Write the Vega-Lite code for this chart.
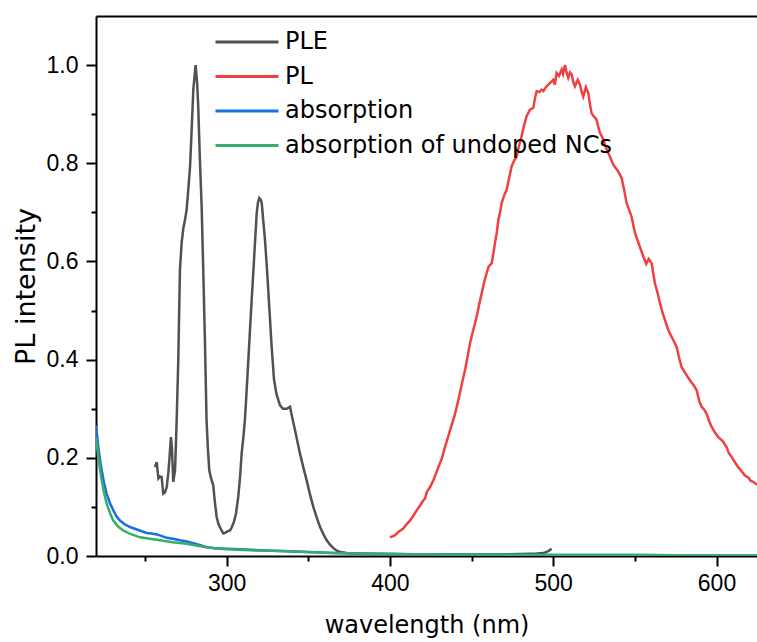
{
 "$schema": "https://vega.github.io/schema/vega-lite/v6.json",
 "width": 661,
 "height": 540,
 "autosize": {"type": "none"},
 "padding": {"left": 96, "top": 16, "right": 0, "bottom": 86},
 "config": {
  "view": {"stroke": null},
  "axis": {"domainColor": "black", "domainWidth": 2, "tickColor": "black", "tickWidth": 2, "labelColor": "black", "titleColor": "black", "grid": false, "labelFont": "Liberation Sans", "labelFontSize": 23, "titleFont": "DejaVu Sans", "titleFontWeight": "normal"}
 },
 "data": {"values": [
  {"s":"PLE","x":256.1,"y":0.181},{"s":"PLE","x":257.2,"y":0.191},{"s":"PLE","x":258.2,"y":0.158},{"s":"PLE","x":259.2,"y":0.162},{"s":"PLE","x":260.2,"y":0.161},{"s":"PLE","x":261.2,"y":0.127},{"s":"PLE","x":262.3,"y":0.13},{"s":"PLE","x":263.3,"y":0.14},{"s":"PLE","x":264.3,"y":0.17},{"s":"PLE","x":264.9,"y":0.195},{"s":"PLE","x":265.9,"y":0.242},{"s":"PLE","x":266.5,"y":0.22},{"s":"PLE","x":267.3,"y":0.151},{"s":"PLE","x":268.4,"y":0.174},{"s":"PLE","x":269.4,"y":0.276},{"s":"PLE","x":270.4,"y":0.40},{"s":"PLE","x":271.4,"y":0.583},{"s":"PLE","x":272.5,"y":0.64},{"s":"PLE","x":273.5,"y":0.668},{"s":"PLE","x":274.5,"y":0.685},{"s":"PLE","x":275.5,"y":0.705},{"s":"PLE","x":276.6,"y":0.75},{"s":"PLE","x":277.6,"y":0.793},{"s":"PLE","x":278.6,"y":0.87},{"s":"PLE","x":279.6,"y":0.95},{"s":"PLE","x":281.0,"y":1.0},{"s":"PLE","x":282.0,"y":0.96},{"s":"PLE","x":282.6,"y":0.916},{"s":"PLE","x":283.6,"y":0.81},{"s":"PLE","x":284.7,"y":0.712},{"s":"PLE","x":285.7,"y":0.58},{"s":"PLE","x":286.7,"y":0.44},{"s":"PLE","x":287.7,"y":0.277},{"s":"PLE","x":288.5,"y":0.22},{"s":"PLE","x":289.4,"y":0.174},{"s":"PLE","x":290.5,"y":0.158},{"s":"PLE","x":291.8,"y":0.144},{"s":"PLE","x":292.8,"y":0.11},{"s":"PLE","x":293.9,"y":0.079},{"s":"PLE","x":295.0,"y":0.065},{"s":"PLE","x":296.9,"y":0.052},{"s":"PLE","x":298.0,"y":0.046},{"s":"PLE","x":299.0,"y":0.047},{"s":"PLE","x":300.5,"y":0.05},{"s":"PLE","x":302.0,"y":0.052},{"s":"PLE","x":303.1,"y":0.058},{"s":"PLE","x":304.5,"y":0.07},{"s":"PLE","x":305.7,"y":0.086},{"s":"PLE","x":307.1,"y":0.12},{"s":"PLE","x":308.2,"y":0.16},{"s":"PLE","x":309.2,"y":0.209},{"s":"PLE","x":310.2,"y":0.24},{"s":"PLE","x":311.2,"y":0.277},{"s":"PLE","x":312.3,"y":0.34},{"s":"PLE","x":313.3,"y":0.40},{"s":"PLE","x":314.3,"y":0.46},{"s":"PLE","x":315.3,"y":0.52},{"s":"PLE","x":316.3,"y":0.576},{"s":"PLE","x":317.4,"y":0.64},{"s":"PLE","x":318.4,"y":0.698},{"s":"PLE","x":319.2,"y":0.72},{"s":"PLE","x":320.0,"y":0.729},{"s":"PLE","x":321.0,"y":0.725},{"s":"PLE","x":321.5,"y":0.719},{"s":"PLE","x":322.5,"y":0.68},{"s":"PLE","x":323.5,"y":0.644},{"s":"PLE","x":324.8,"y":0.58},{"s":"PLE","x":326.1,"y":0.508},{"s":"PLE","x":327.5,"y":0.43},{"s":"PLE","x":329.0,"y":0.36},{"s":"PLE","x":330.5,"y":0.33},{"s":"PLE","x":332.7,"y":0.307},{"s":"PLE","x":334.5,"y":0.30},{"s":"PLE","x":336.8,"y":0.30},{"s":"PLE","x":337.8,"y":0.302},{"s":"PLE","x":338.8,"y":0.304},{"s":"PLE","x":340.3,"y":0.28},{"s":"PLE","x":341.9,"y":0.256},{"s":"PLE","x":343.4,"y":0.232},{"s":"PLE","x":344.9,"y":0.209},{"s":"PLE","x":347.0,"y":0.18},{"s":"PLE","x":349.0,"y":0.154},{"s":"PLE","x":351.0,"y":0.126},{"s":"PLE","x":353.1,"y":0.1},{"s":"PLE","x":355.2,"y":0.078},{"s":"PLE","x":357.2,"y":0.059},{"s":"PLE","x":359.3,"y":0.044},{"s":"PLE","x":361.3,"y":0.032},{"s":"PLE","x":363.3,"y":0.023},{"s":"PLE","x":365.4,"y":0.016},{"s":"PLE","x":367.4,"y":0.011},{"s":"PLE","x":370.0,"y":0.008},{"s":"PLE","x":373.5,"y":0.006},{"s":"PLE","x":380,"y":0.005},{"s":"PLE","x":390,"y":0.004},{"s":"PLE","x":400,"y":0.004},{"s":"PLE","x":420,"y":0.003},{"s":"PLE","x":440,"y":0.003},{"s":"PLE","x":460,"y":0.003},{"s":"PLE","x":480,"y":0.004},{"s":"PLE","x":490,"y":0.005},{"s":"PLE","x":494,"y":0.006},{"s":"PLE","x":497,"y":0.01},{"s":"PLE","x":499,"y":0.015},
  {"s":"PL","x":400.0,"y":0.038},{"s":"PL","x":401.5,"y":0.04},{"s":"PL","x":403.0,"y":0.042},{"s":"PL","x":405.5,"y":0.05},{"s":"PL","x":408.2,"y":0.056},{"s":"PL","x":410.0,"y":0.064},{"s":"PL","x":412.3,"y":0.072},{"s":"PL","x":414.5,"y":0.083},{"s":"PL","x":416.4,"y":0.093},{"s":"PL","x":418.5,"y":0.103},{"s":"PL","x":420.4,"y":0.113},{"s":"PL","x":421.5,"y":0.117},{"s":"PL","x":422.5,"y":0.13},{"s":"PL","x":424.5,"y":0.14},{"s":"PL","x":426.6,"y":0.154},{"s":"PL","x":429.0,"y":0.175},{"s":"PL","x":431.7,"y":0.198},{"s":"PL","x":434.0,"y":0.225},{"s":"PL","x":436.8,"y":0.256},{"s":"PL","x":439.5,"y":0.285},{"s":"PL","x":441.9,"y":0.317},{"s":"PL","x":444.0,"y":0.35},{"s":"PL","x":446.0,"y":0.379},{"s":"PL","x":447.5,"y":0.405},{"s":"PL","x":449.0,"y":0.433},{"s":"PL","x":451.0,"y":0.46},{"s":"PL","x":453.1,"y":0.487},{"s":"PL","x":454.5,"y":0.51},{"s":"PL","x":456.2,"y":0.535},{"s":"PL","x":457.5,"y":0.555},{"s":"PL","x":459.2,"y":0.576},{"s":"PL","x":460.5,"y":0.59},{"s":"PL","x":462.3,"y":0.596},{"s":"PL","x":463.3,"y":0.615},{"s":"PL","x":464.3,"y":0.637},{"s":"PL","x":465.5,"y":0.66},{"s":"PL","x":466.4,"y":0.685},{"s":"PL","x":467.5,"y":0.70},{"s":"PL","x":468.4,"y":0.719},{"s":"PL","x":470.0,"y":0.735},{"s":"PL","x":471.5,"y":0.746},{"s":"PL","x":473.0,"y":0.77},{"s":"PL","x":474.5,"y":0.793},{"s":"PL","x":476.0,"y":0.805},{"s":"PL","x":477.6,"y":0.814},{"s":"PL","x":479.0,"y":0.835},{"s":"PL","x":480.6,"y":0.855},{"s":"PL","x":482.0,"y":0.875},{"s":"PL","x":483.7,"y":0.896},{"s":"PL","x":485.8,"y":0.909},{"s":"PL","x":487.8,"y":0.913},{"s":"PL","x":489.0,"y":0.935},{"s":"PL","x":489.9,"y":0.947},{"s":"PL","x":491.5,"y":0.945},{"s":"PL","x":493.0,"y":0.95},{"s":"PL","x":494.0,"y":0.947},{"s":"PL","x":495.5,"y":0.955},{"s":"PL","x":497.0,"y":0.96},{"s":"PL","x":498.5,"y":0.965},{"s":"PL","x":500.0,"y":0.97},{"s":"PL","x":501.0,"y":0.96},{"s":"PL","x":502.1,"y":0.984},{"s":"PL","x":503.5,"y":0.978},{"s":"PL","x":505.2,"y":0.991},{"s":"PL","x":506.0,"y":0.982},{"s":"PL","x":507.2,"y":1.0},{"s":"PL","x":508.2,"y":0.985},{"s":"PL","x":509.2,"y":0.974},{"s":"PL","x":510.3,"y":0.985},{"s":"PL","x":511.3,"y":0.981},{"s":"PL","x":512.3,"y":0.965},{"s":"PL","x":513.3,"y":0.957},{"s":"PL","x":515.0,"y":0.97},{"s":"PL","x":516.4,"y":0.96},{"s":"PL","x":517.5,"y":0.945},{"s":"PL","x":518.4,"y":0.936},{"s":"PL","x":520.0,"y":0.955},{"s":"PL","x":521.5,"y":0.943},{"s":"PL","x":522.5,"y":0.92},{"s":"PL","x":523.5,"y":0.902},{"s":"PL","x":525.0,"y":0.895},{"s":"PL","x":526.6,"y":0.889},{"s":"PL","x":527.5,"y":0.875},{"s":"PL","x":528.6,"y":0.862},{"s":"PL","x":530.5,"y":0.85},{"s":"PL","x":532.5,"y":0.83},{"s":"PL","x":534.7,"y":0.814},{"s":"PL","x":536.8,"y":0.797},{"s":"PL","x":539.5,"y":0.785},{"s":"PL","x":541.9,"y":0.77},{"s":"PL","x":543.5,"y":0.745},{"s":"PL","x":544.9,"y":0.719},{"s":"PL","x":546.5,"y":0.705},{"s":"PL","x":548.0,"y":0.691},{"s":"PL","x":549.0,"y":0.675},{"s":"PL","x":550.1,"y":0.658},{"s":"PL","x":552.5,"y":0.635},{"s":"PL","x":555.2,"y":0.61},{"s":"PL","x":557.0,"y":0.595},{"s":"PL","x":558.5,"y":0.605},{"s":"PL","x":560.3,"y":0.596},{"s":"PL","x":561.3,"y":0.575},{"s":"PL","x":562.3,"y":0.555},{"s":"PL","x":564.0,"y":0.535},{"s":"PL","x":565.4,"y":0.515},{"s":"PL","x":567.0,"y":0.495},{"s":"PL","x":568.4,"y":0.481},{"s":"PL","x":570.0,"y":0.465},{"s":"PL","x":571.5,"y":0.453},{"s":"PL","x":573.5,"y":0.44},{"s":"PL","x":575.6,"y":0.426},{"s":"PL","x":577.0,"y":0.405},{"s":"PL","x":578.6,"y":0.385},{"s":"PL","x":581.0,"y":0.372},{"s":"PL","x":583.7,"y":0.358},{"s":"PL","x":586.0,"y":0.348},{"s":"PL","x":587.8,"y":0.338},{"s":"PL","x":589.5,"y":0.315},{"s":"PL","x":590.9,"y":0.304},{"s":"PL","x":592.5,"y":0.298},{"s":"PL","x":593.9,"y":0.29},{"s":"PL","x":595.5,"y":0.275},{"s":"PL","x":597.0,"y":0.263},{"s":"PL","x":599.0,"y":0.252},{"s":"PL","x":601.1,"y":0.242},{"s":"PL","x":603.5,"y":0.235},{"s":"PL","x":606.2,"y":0.222},{"s":"PL","x":607.5,"y":0.21},{"s":"PL","x":609.2,"y":0.202},{"s":"PL","x":611.5,"y":0.19},{"s":"PL","x":613.3,"y":0.181},{"s":"PL","x":615.5,"y":0.172},{"s":"PL","x":617.4,"y":0.164},{"s":"PL","x":619.5,"y":0.16},{"s":"PL","x":621.0,"y":0.153},{"s":"PL","x":622.5,"y":0.151},{"s":"PL","x":624.8,"y":0.145},
  {"s":"absorption","x":220,"y":0.266},{"s":"absorption","x":221,"y":0.235},{"s":"absorption","x":221.4,"y":0.222},{"s":"absorption","x":222.5,"y":0.195},{"s":"absorption","x":223.5,"y":0.174},{"s":"absorption","x":225,"y":0.148},{"s":"absorption","x":226.5,"y":0.127},{"s":"absorption","x":228.5,"y":0.108},{"s":"absorption","x":230.6,"y":0.093},{"s":"absorption","x":232.5,"y":0.081},{"s":"absorption","x":234.7,"y":0.072},{"s":"absorption","x":237.5,"y":0.065},{"s":"absorption","x":240.8,"y":0.059},{"s":"absorption","x":245,"y":0.054},{"s":"absorption","x":251,"y":0.047},{"s":"absorption","x":254,"y":0.046},{"s":"absorption","x":257.2,"y":0.044},{"s":"absorption","x":260,"y":0.041},{"s":"absorption","x":263.3,"y":0.037},{"s":"absorption","x":267,"y":0.035},{"s":"absorption","x":271.4,"y":0.032},{"s":"absorption","x":275,"y":0.03},{"s":"absorption","x":279.6,"y":0.026},{"s":"absorption","x":284,"y":0.022},{"s":"absorption","x":287.8,"y":0.018},{"s":"absorption","x":293,"y":0.016},{"s":"absorption","x":300,"y":0.015},{"s":"absorption","x":312,"y":0.013},{"s":"absorption","x":324.5,"y":0.011},{"s":"absorption","x":340,"y":0.009},{"s":"absorption","x":365,"y":0.006},{"s":"absorption","x":380,"y":0.005},{"s":"absorption","x":400,"y":0.004},{"s":"absorption","x":430,"y":0.003},{"s":"absorption","x":460,"y":0.003},{"s":"absorption","x":500,"y":0.002},{"s":"absorption","x":550,"y":0.002},{"s":"absorption","x":600,"y":0.001},{"s":"absorption","x":624.8,"y":0.001},
  {"s":"absorption of undoped NCs","x":220,"y":0.242},{"s":"absorption of undoped NCs","x":221.4,"y":0.202},{"s":"absorption of undoped NCs","x":222.5,"y":0.175},{"s":"absorption of undoped NCs","x":223.5,"y":0.154},{"s":"absorption of undoped NCs","x":225,"y":0.128},{"s":"absorption of undoped NCs","x":226.5,"y":0.107},{"s":"absorption of undoped NCs","x":228.5,"y":0.088},{"s":"absorption of undoped NCs","x":230.6,"y":0.072},{"s":"absorption of undoped NCs","x":233.5,"y":0.06},{"s":"absorption of undoped NCs","x":236.7,"y":0.052},{"s":"absorption of undoped NCs","x":241,"y":0.045},{"s":"absorption of undoped NCs","x":247,"y":0.038},{"s":"absorption of undoped NCs","x":253,"y":0.035},{"s":"absorption of undoped NCs","x":259.2,"y":0.032},{"s":"absorption of undoped NCs","x":267,"y":0.028},{"s":"absorption of undoped NCs","x":275.5,"y":0.025},{"s":"absorption of undoped NCs","x":282,"y":0.021},{"s":"absorption of undoped NCs","x":287.8,"y":0.018},{"s":"absorption of undoped NCs","x":295,"y":0.015},{"s":"absorption of undoped NCs","x":304,"y":0.013},{"s":"absorption of undoped NCs","x":320,"y":0.011},{"s":"absorption of undoped NCs","x":334.7,"y":0.01},{"s":"absorption of undoped NCs","x":350,"y":0.008},{"s":"absorption of undoped NCs","x":365,"y":0.006},{"s":"absorption of undoped NCs","x":380,"y":0.005},{"s":"absorption of undoped NCs","x":400,"y":0.004},{"s":"absorption of undoped NCs","x":430,"y":0.003},{"s":"absorption of undoped NCs","x":460,"y":0.003},{"s":"absorption of undoped NCs","x":500,"y":0.002},{"s":"absorption of undoped NCs","x":550,"y":0.002},{"s":"absorption of undoped NCs","x":600,"y":0.001},{"s":"absorption of undoped NCs","x":624.8,"y":0.001}
 ]},
 "resolve": {"axis": {"x": "independent", "y": "independent"}},
 "layer": [
  {
   "mark": {"type": "line", "strokeWidth": 2.5, "clip": true},
   "encoding": {
    "x": {"field": "x", "type": "quantitative", "scale": {"domain": [220, 624.8], "nice": false, "zero": false},
          "axis": {"orient": "bottom", "values": [300, 400, 500, 600], "format": "d", "tickSize": 10, "labelPadding": 6, "title": "wavelength (nm)", "titleFontSize": 24, "titlePadding": 18}},
    "y": {"field": "y", "type": "quantitative", "scale": {"domain": [0, 1.1], "nice": false, "zero": false},
          "axis": {"orient": "left", "values": [0, 0.2, 0.4, 0.6, 0.8, 1.0], "format": ".1f", "tickSize": 10, "labelPadding": 8, "title": "PL intensity", "titleFontSize": 27, "titlePadding": 6}},
    "color": {"field": "s", "type": "nominal",
              "scale": {"domain": ["PLE", "PL", "absorption", "absorption of undoped NCs"], "range": ["#515151", "#F14040", "#1A6FDF", "#37AD6B"]},
              "legend": {"orient": "none", "legendX": 139, "legendY": 14, "title": null, "symbolType": "M-3,0H3", "symbolSize": 441, "symbolStrokeWidth": 3, "labelFont": "DejaVu Sans", "labelFontSize": 24, "labelColor": "black", "labelOffset": 26, "rowPadding": 10.5, "padding": 0, "labelLimit": 600}}
   }
  },
  {
   "mark": {"type": "line", "opacity": 0},
   "encoding": {
    "x": {"field": "x", "type": "quantitative", "axis": {"orient": "bottom", "values": [250, 350, 450, 550], "tickSize": 5, "labels": false, "domain": false, "title": null}},
    "y": {"field": "y", "type": "quantitative", "axis": {"orient": "left", "values": [0.1, 0.3, 0.5, 0.7, 0.9], "tickSize": 5, "labels": false, "domain": false, "title": null}}
   }
  },
  {
   "mark": {"type": "line", "opacity": 0},
   "encoding": {
    "x": {"field": "x", "type": "quantitative", "axis": {"orient": "top", "ticks": false, "labels": false, "domain": true, "title": null}},
    "y": {"field": "y", "type": "quantitative", "axis": null}
   }
  }
 ]
}
